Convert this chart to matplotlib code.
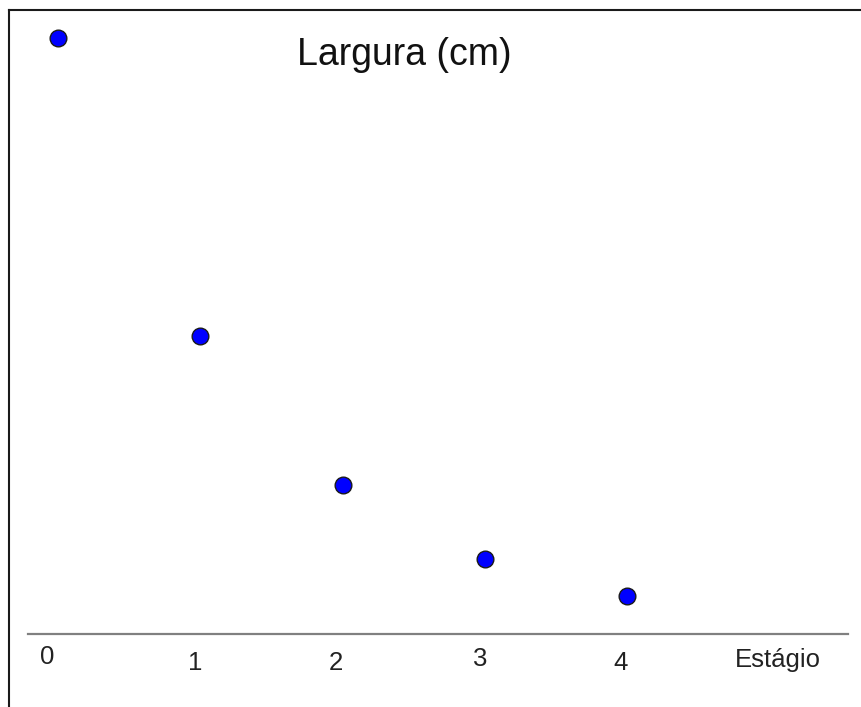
import matplotlib
matplotlib.use("Agg")
import matplotlib.pyplot as plt
from matplotlib.lines import Line2D

plt.rcParams["font.family"] = ["Liberation Sans", "DejaVu Sans"]

# ===== Data =====
estagio = [0, 1, 2, 3, 4]
largura = [16, 8, 4, 2, 1]
tick_labels = ["0", "1", "2", "3", "4"]

W, H = 861, 707
fig = plt.figure(figsize=(W / 100, H / 100), dpi=100)
ax = fig.add_axes([0, 0, 1, 1])
ax.axis("off")

# pixel mapping (GeoGebra-like view)
x0_px, sx = 58.0, 142.25
y0_px, sy = 633.5, 37.25
ax.set_xlim(-x0_px / sx, (W - x0_px) / sx)
ax.set_ylim(-(H - y0_px) / sy, y0_px / sy)

# x axis line
ax.axhline(0, xmin=28 / W, xmax=848 / W, color="#808080", lw=1.6, zorder=1)

# points
ax.plot(estagio, largura, "o", markersize=12, markerfacecolor="#0000ff",
        markeredgecolor="#1a1a1a", markeredgewidth=1.0, zorder=3)

# tick labels (slightly irregular offsets as in the original)
offsets = [(-11, -31), (-5, -36), (-7, -36), (-5, -33), (-6, -36)]
for x, lab, (dx, dy) in zip(estagio, tick_labels, offsets):
    ax.annotate(lab, xy=(x, 0), xytext=(dx, dy), textcoords="offset pixels",
                ha="center", va="baseline", fontsize=18.5, color="#222222")

fig.text(778 / W, 1 - 667 / H, "Estágio", ha="center", va="baseline",
         fontsize=18.5, color="#222222")

# title
fig.text(404 / W, 1 - 65 / H, "Largura (cm)", ha="center", va="baseline",
         fontsize=27, color="#111111")

# frame: top and left only
fig.add_artist(Line2D([9 / W, 1], [1 - 10 / H, 1 - 10 / H], color="#1a1a1a", lw=1.5))
fig.add_artist(Line2D([9 / W, 9 / W], [0, 1 - 10 / H], color="#1a1a1a", lw=1.5))

fig.savefig("out.png", dpi=100)
